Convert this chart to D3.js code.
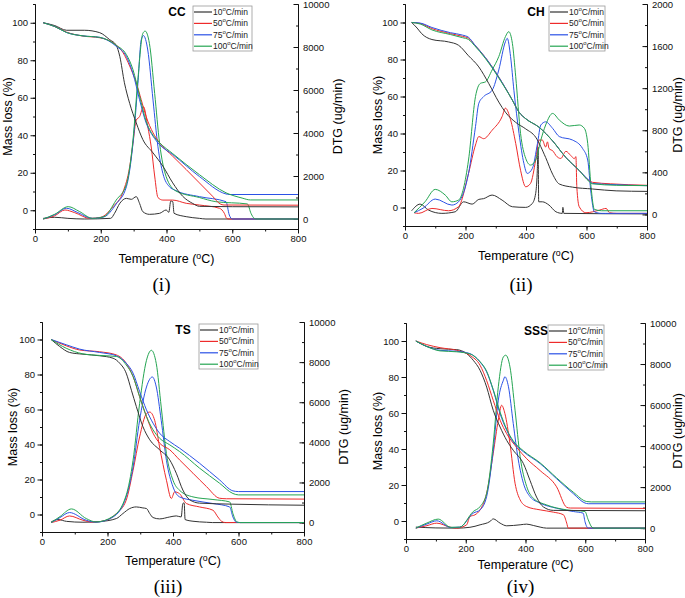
<!DOCTYPE html>
<html>
<head>
<meta charset="utf-8">
<script src="https://cdn.jsdelivr.net/npm/d3@7"></script>
<style>
  body { margin: 0; background: #fff; }
  text { font-family: "Liberation Sans", Arial, sans-serif; }
  text.caption { font-family: "Liberation Serif", "Times New Roman", serif; }
</style>
</head>
<body>
<svg id="chart" width="685" height="598"></svg>
<script>
// heating rates (legend) and their colours
const rates = ['10', '50', '75', '100'];
const rateColors = ['#333333', '#ee2b2b', '#2b52e6', '#25a552'];

// ---- CC : [temperature, value] ----
const ccTg10 = [[25,100],[60,98.5],[96,96],[150,96],[197,94.7],[227,91],[247,88],[258,82],[272,68],[288,57],[308,46.6],[328,37.7],[359,30.6],[389,23.5],[419,14.6],[449,7.5],[480,3.6],[500,2.1],[600,1.9],[800,1.8]];
const ccTg50 = [[25,100],[60,98],[96,95],[146,92.9],[197,92],[237,89.3],[268,84],[288,76.9],[308,68],[323,59],[338,50],[359,41.3],[379,36],[419,28.8],[460,21.7],[500,14.6],[540,7.5],[563,3.4],[575,2.8],[800,2.7]];
const ccTg75 = [[25,100],[60,98],[96,94.8],[146,93],[197,92.2],[247,87.5],[278,82],[298,73],[318,59],[338,46.6],[359,39.5],[379,35],[419,29.7],[500,18],[581,8.7],[590,8.4],[800,8.4]];
const ccTg100 = [[25,100],[60,98],[96,94.8],[146,93],[197,92.2],[247,88],[278,83],[298,75],[318,61],[338,47.5],[359,40],[379,36],[419,30.2],[500,19],[581,9.3],[630,6.5],[655,5.5],[800,5.5]];
const ccDtg10 = [[25,30],[60,80],[100,30],[150,0],[230,30],[242,264],[258,730],[278,960],[293,915],[308,1040],[318,730],[328,340],[348,217],[379,264],[399,420],[407,310],[413,837],[419,806],[423,264],[460,108],[500,30],[520,0],[800,0]];
const ccDtg50 = [[25,0],[60,150],[91,420],[120,300],[167,30],[200,80],[237,570],[268,1270],[288,2430],[298,3520],[308,4600],[318,4760],[330,5220],[343,4300],[354,3300],[364,2000],[374,1000],[389,880],[419,880],[460,730],[500,650],[561,500],[576,264],[583,30],[590,0],[800,0]];
const ccDtg75 = [[25,0],[60,200],[96,500],[130,300],[175,30],[210,100],[247,700],[278,1500],[298,3520],[313,6300],[323,8320],[330,8530],[343,7860],[359,5530],[374,3360],[389,2120],[409,1500],[429,1320],[500,1040],[581,806],[591,186],[600,0],[800,0]];
const ccDtg100 = [[25,0],[60,220],[101,575],[135,350],[175,30],[210,110],[247,880],[278,1600],[298,3670],[313,6500],[328,8630],[335,8740],[348,8170],[364,5840],[379,3520],[399,1970],[429,1300],[500,1000],[550,806],[646,700],[657,264],[667,30],[675,0],[800,0]];

// ---- CH ----
const chTg10 = [[22,100],[40,97],[55,94],[89,90.8],[144,89.5],[177,87.7],[210,82],[244,76],[277,67],[310,57],[332,51.5],[366,46],[399,42.5],[432,38],[465,27],[488,18],[510,12.7],[554,11],[620,10],[698,9],[800,8.7]];
const chTg50 = [[22,100],[50,99.5],[89,96.7],[150,94],[190,92.5],[210,91.5],[230,88],[266,81],[310,70.5],[355,58],[377,51.5],[399,48],[443,43.4],[488,36],[532,27],[576,20],[609,14.5],[620,13.6],[680,12.8],[800,12]];
const chTg75 = [[22,100],[50,99.7],[89,97.3],[150,94.5],[190,93.2],[210,92],[230,88],[266,81],[310,70.5],[355,58],[377,51.5],[399,48],[443,43.4],[488,36],[532,27],[576,20],[609,14.5],[620,13],[700,12.3],[800,11.8]];
const chTg100 = [[22,100],[50,99.2],[89,96],[150,93.5],[190,91.8],[210,90.8],[230,87.5],[266,80.5],[310,70],[355,58],[377,51.5],[399,48],[443,43.4],[488,36],[532,27],[576,20],[609,14],[620,12.8],[700,12],[800,11.8]];
const chDtg10 = [[22,35],[50,98],[78,41],[122,10],[166,25],[194,120],[222,98],[244,143],[260,150],[288,184],[321,136],[355,73],[399,67],[421,105],[432,200],[437,390],[440,640],[442,120],[454,120],[476,89],[499,25],[520,10],[522,67],[525,10],[800,5]];
const chDtg50 = [[30,16],[45,10],[89,57],[144,35],[177,73],[210,390],[233,660],[244,740],[260,720],[288,800],[321,930],[332,1010],[349,900],[366,675],[382,420],[399,263],[415,295],[432,517],[443,707],[454,707],[465,640],[471,690],[476,627],[490,600],[499,560],[515,532],[532,600],[548,560],[560,530],[565,550],[568,263],[576,73],[598,16],[643,41],[665,57],[676,16],[700,10],[800,10]];
const chDtg75 = [[30,16],[60,60],[100,146],[155,89],[177,120],[210,390],[233,834],[244,1056],[260,1120],[288,1180],[310,1373],[332,1642],[338,1674],[349,1500],[360,1180],[377,770],[393,485],[404,390],[421,437],[438,675],[449,850],[465,880],[488,818],[510,740],[554,707],[587,627],[604,517],[615,200],[626,25],[650,10],[800,10]];
const chDtg100 = [[30,16],[66,120],[100,238],[133,184],[155,120],[177,136],[210,517],[233,1120],[249,1245],[266,1260],[288,1373],[310,1500],[332,1690],[343,1737],[355,1626],[366,1309],[382,770],[399,533],[415,469],[432,517],[449,707],[465,850],[488,960],[510,897],[543,840],[576,850],[593,818],[604,675],[615,263],[626,48],[650,35],[800,35]];

// ---- TS ----
const tsTg10 = [[28,100],[54,96],[84,92.6],[125,91.6],[176,90.7],[217,89.3],[237,86.5],[257,80.8],[273,71],[288,61.7],[308,50.3],[329,42.7],[359,37],[390,31.2],[410,23.6],[430,14],[451,8.4],[481,6.5],[583,5.9],[800,5.3]];
const tsTg50 = [[28,100],[74,96.4],[115,94],[176,93],[227,91.2],[257,86.5],[278,78.9],[298,67.4],[319,56],[339,46.5],[359,40.8],[390,37],[420,31.2],[461,23.6],[502,16],[542,9.3],[563,9],[800,8.8]];
const tsTg75 = [[28,100],[74,97],[115,94.5],[176,92.6],[227,90.7],[257,86.5],[278,80.8],[298,70.3],[319,59.8],[339,52.2],[359,46.5],[390,41.7],[420,37.9],[481,29.3],[542,19.8],[583,13.5],[600,13.1],[800,13.1]];
const tsTg100 = [[28,100],[74,95],[125,91.8],[176,90.9],[227,90.3],[257,85.5],[278,78.9],[298,67.4],[319,56],[339,48.4],[359,43.6],[390,39.8],[420,36],[481,26.5],[542,17.9],[583,12],[600,11.2],[800,11.2]];
const tsDtg10 = [[28,33],[49,150],[75,60],[125,17],[176,50],[227,200],[247,450],[268,700],[288,780],[308,730],[319,700],[329,450],[339,250],[359,183],[390,280],[410,332],[425,280],[430,950],[434,980],[437,150],[461,66],[502,17],[520,0],[800,0]];
const tsDtg50 = [[28,0],[55,120],[84,330],[125,116],[155,20],[196,116],[227,450],[257,1110],[278,2600],[298,4270],[319,5430],[329,5510],[344,5100],[359,3770],[380,2110],[395,1200],[405,1530],[420,1440],[441,950],[481,780],[522,615],[537,280],[548,66],[560,0],[800,0]];
const tsDtg75 = [[28,0],[55,250],[84,500],[135,116],[165,20],[217,280],[257,1280],[278,2770],[298,5100],[319,6760],[337,7260],[349,6760],[364,5100],[380,3100],[400,1780],[420,1280],[461,1110],[522,950],[573,780],[583,280],[593,17],[605,0],[800,0]];
const tsDtg100 = [[28,0],[55,300],[90,680],[135,200],[165,30],[217,315],[257,1360],[278,3100],[298,5930],[319,8090],[334,8590],[349,7920],[364,5760],[380,3440],[400,2110],[420,1610],[461,1280],[522,1150],[573,1030],[583,450],[595,33],[605,0],[800,0]];

// ---- SSS ----
const sssTg10 = [[33,100],[69,97],[114,95.7],[170,95.2],[203,93],[225,89.3],[248,83.7],[270,74.4],[292,61.5],[315,52.2],[337,44.8],[359,39.3],[393,31.9],[415,22.6],[437,13.3],[460,7.8],[493,5.9],[800,5.7]];
const sssTg50 = [[33,100],[69,98],[114,96.3],[170,94.8],[214,92],[248,86.5],[270,78],[292,67],[315,56],[337,48.5],[370,41],[404,34.6],[449,28],[504,19],[538,7.6],[550,7.2],[800,7]];
const sssTg75 = [[33,100],[69,97],[114,94.8],[170,94.3],[214,93],[248,88.3],[270,82.8],[292,72.6],[315,59.6],[337,50.4],[359,43.9],[393,38.5],[449,31.9],[504,23.5],[560,15.2],[599,10],[610,9.6],[800,9.6]];
const sssTg100 = [[33,100],[69,97],[114,94.5],[170,94],[214,92.8],[248,88.5],[270,83.2],[292,73],[315,60.5],[337,51],[359,44.5],[393,39],[449,32.3],[504,24],[560,16],[605,10.8],[620,10.6],[800,10.6]];
const sssDtg10 = [[33,50],[100,10],[170,0],[214,40],[248,162],[281,324],[292,450],[315,243],[337,113],[382,162],[404,195],[426,130],[449,50],[470,0],[800,0]];
const sssDtg50 = [[33,0],[70,120],[103,243],[147,50],[170,0],[203,162],[214,567],[231,650],[248,890],[270,1700],[292,3650],[309,5270],[320,5990],[331,5590],[348,4130],[365,2190],[382,1380],[404,1050],[449,890],[493,780],[527,650],[538,243],[543,0],[800,0]];
const sssDtg75 = [[33,0],[70,200],[103,357],[150,30],[180,50],[225,730],[248,890],[270,1540],[292,3810],[309,6240],[326,7210],[331,7380],[343,6890],[359,5100],[376,3320],[393,2190],[415,1540],[449,1220],[504,970],[560,810],[593,730],[599,324],[610,0],[800,0]];
const sssDtg100 = [[33,0],[70,250],[108,440],[150,40],[180,50],[225,810],[248,1050],[270,1700],[292,4130],[309,6890],[326,8350],[334,8430],[348,7860],[365,5750],[382,3490],[404,2030],[426,1460],[471,1130],[538,890],[599,810],[610,405],[622,50],[630,0],[800,0]];

// tick values
const tempTicks = [0, 200, 400, 600, 800];
const massTicks = [0, 20, 40, 60, 80, 100];
const dtgTicksBig = [0, 2000, 4000, 6000, 8000, 10000];
const dtgTicksCH = [0, 400, 800, 1200, 1600, 2000];

const panels = [
  { name: 'CC', caption: '(i)', tg: [ccTg10, ccTg50, ccTg75, ccTg100], dtg: [ccDtg10, ccDtg50, ccDtg75, ccDtg100],
    dtgTicks: dtgTicksBig, dtgMin: -465, frame: [35, 4, 298, 229],
    titleX: 177, legX: 193, legW: 59, massX: 8, dtgX: 338, tempY: 259, capY: 291 },
  { name: 'CH', caption: '(ii)', tg: [chTg10, chTg50, chTg75, chTg100], dtg: [chDtg10, chDtg50, chDtg75, chDtg100],
    dtgTicks: dtgTicksCH, dtgMin: -110, frame: [405, 4, 647, 226],
    titleX: 536, legX: 549, legW: 56, massX: 378, dtgX: 678, tempY: 256, capY: 291 },
  { name: 'TS', caption: '(iii)', tg: [tsTg10, tsTg50, tsTg75, tsTg100], dtg: [tsDtg10, tsDtg50, tsDtg75, tsDtg100],
    dtgTicks: dtgTicksBig, dtgMin: -470, frame: [42, 322, 304, 532],
    titleX: 183, legX: 199, legW: 59, massX: 13, dtgX: 344, tempY: 561, capY: 593 },
  { name: 'SSS', caption: '(iv)', tg: [sssTg10, sssTg50, sssTg75, sssTg100], dtg: [sssDtg10, sssDtg50, sssDtg75, sssDtg100],
    dtgTicks: dtgTicksBig, dtgMin: -530, frame: [406, 323, 645, 539],
    titleX: 536, legX: 548, legW: 56, massX: 378, dtgX: 678, tempY: 565, capY: 593 }
];

const svg = d3.select('#chart');

function degText(sel, before, after) {
  sel.append('tspan').text(before);
  sel.append('tspan').attr('dy', -4).attr('font-size', '0.7em').text('o');
  sel.append('tspan').attr('dy', 4).text(after);
}

panels.forEach(p => {
  const [x0, y0, x1, y1] = p.frame;
  const g = svg.append('g');

  const x = d3.scaleLinear().domain([0, 800]).range([x0, x1]);
  const yL = d3.scaleLinear().domain([-10, 110]).range([y1, y0]);
  const dtgMax = p.dtgTicks[p.dtgTicks.length - 1];
  const yR = d3.scaleLinear().domain([p.dtgMin, dtgMax]).range([y1, y0]);
  const dtgStep = p.dtgTicks[1] - p.dtgTicks[0];
  const fmt = d3.format('d');

  // minor ticks first
  g.append('g').attr('transform', `translate(0,${y1})`)
    .call(d3.axisBottom(x).tickValues(d3.range(0, 801, 100)).tickSize(2.5).tickFormat(''));
  g.append('g').attr('transform', `translate(${x0},0)`)
    .call(d3.axisLeft(yL).tickValues(d3.range(-10, 111, 10)).tickSize(2).tickFormat(''));
  g.append('g').attr('transform', `translate(${x1},0)`)
    .call(d3.axisRight(yR).tickValues(d3.range(0, dtgMax + 1, dtgStep / 2)).tickSize(-2).tickFormat(''));

  // major axes (right axis ticks point inward)
  g.append('g').attr('transform', `translate(0,${y1})`)
    .call(d3.axisBottom(x).tickValues(tempTicks).tickFormat(fmt).tickSize(4.5).tickSizeOuter(0).tickPadding(2));
  g.append('g').attr('transform', `translate(${x0},0)`)
    .call(d3.axisLeft(yL).tickValues(massTicks).tickFormat(fmt).tickSize(4.5).tickSizeOuter(0).tickPadding(2.5));
  g.append('g').attr('transform', `translate(${x1},0)`)
    .call(d3.axisRight(yR).tickValues(p.dtgTicks).tickFormat(fmt).tickSize(-4.5).tickSizeOuter(0).tickPadding(5));

  g.selectAll('.tick text').attr('font-size', 9.5).style('font-family', '"Liberation Sans", Arial, sans-serif').attr('fill', '#111');
  g.selectAll('.domain, .tick line').attr('stroke', '#111');

  const lineL = d3.line().x(d => x(d[0])).y(d => yL(d[1])).curve(d3.curveMonotoneX);
  const lineR = d3.line().x(d => x(d[0])).y(d => yR(d[1])).curve(d3.curveMonotoneX);

  p.dtg.forEach((s, i) => {
    g.append('path').datum(s).attr('d', lineR)
      .attr('fill', 'none').attr('stroke', rateColors[i]).attr('stroke-width', 1);
  });
  p.tg.forEach((s, i) => {
    g.append('path').datum(s).attr('d', lineL)
      .attr('fill', 'none').attr('stroke', rateColors[i]).attr('stroke-width', 1);
  });

  // sample name
  g.append('text').attr('x', p.titleX).attr('y', y0 + 12)
    .attr('text-anchor', 'middle').attr('font-size', 12).attr('font-weight', 'bold').text(p.name);

  // legend
  const lg = g.append('g').attr('transform', `translate(${p.legX},${y0 + 2})`);
  lg.append('rect').attr('width', p.legW).attr('height', 45)
    .attr('fill', '#fff').attr('stroke', '#999').attr('stroke-width', 0.8);
  rates.forEach((r, i) => {
    const yy = 6 + i * 11.4;
    lg.append('line').attr('x1', 1).attr('x2', 19).attr('y1', yy).attr('y2', yy)
      .attr('stroke', rateColors[i]).attr('stroke-width', 1.2);
    const t = lg.append('text').attr('x', 20).attr('y', yy + 3).attr('font-size', 8.5).attr('fill', '#222');
    degText(t, r, 'C/min');
  });

  // axis titles
  const midY = (y0 + y1) / 2;
  g.append('text').attr('transform', `translate(${p.massX},${midY}) rotate(-90)`)
    .attr('text-anchor', 'middle').attr('dominant-baseline', 'central').attr('font-size', 12.5).text('Mass loss (%)');
  g.append('text').attr('transform', `translate(${p.dtgX},${midY}) rotate(-90)`)
    .attr('text-anchor', 'middle').attr('dominant-baseline', 'central').attr('font-size', 12.5).text('DTG (ug/min)');
  const tt = g.append('text').attr('x', (x0 + x1) / 2).attr('y', p.tempY + 4)
    .attr('text-anchor', 'middle').attr('font-size', 12.5);
  degText(tt, 'Temperature (', 'C)');

  g.append('text').attr('class', 'caption').attr('x', (x0 + x1) / 2 - 5).attr('y', p.capY)
    .attr('text-anchor', 'middle').attr('font-size', 19).text(p.caption);
});
</script>
</body>
</html>
